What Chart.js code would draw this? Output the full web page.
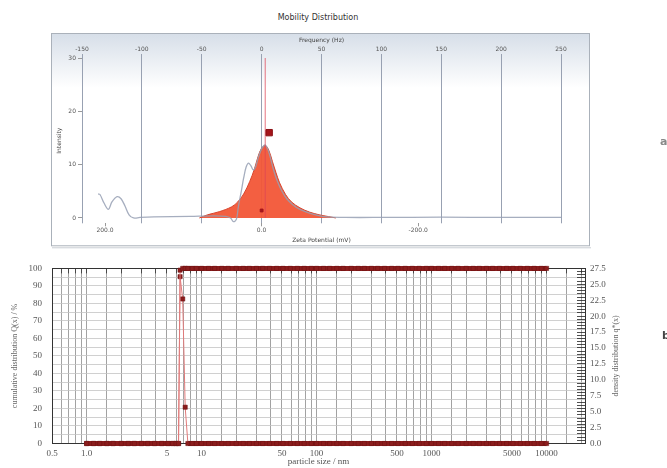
<!DOCTYPE html>
<html>
<head>
<meta charset="utf-8">
<script src="https://cdn.jsdelivr.net/npm/chart.js@4.4.1/dist/chart.umd.min.js"></script>
<style>
  body { margin: 0; width: 667px; height: 468px; overflow: hidden; background: #fff; position: relative; font-family: "DejaVu Sans", sans-serif; }
  #title { position: absolute; left: 0; top: 13px; width: 636px; text-align: center; font-size: 8px; color: #333; }
  #c1 { position: absolute; left: 0; top: 0; }
  #c2 { position: absolute; left: 0; top: 250px; }
  .side { position: absolute; font: bold 11px "DejaVu Sans", sans-serif; color: #444; }
</style>
</head>
<body>
<div id="title">Mobility Distribution</div>
<canvas id="c1" width="667" height="250"></canvas>
<canvas id="c2" width="667" height="218"></canvas>
<div class="side" style="left:660px;top:135px;color:#888">a</div>
<div class="side" style="left:662px;top:329px">b</div>
<script>
// ---- mobility distribution (top) ----
var freqTicks = [-150, -100, -50, 0, 50, 100, 150, 200, 250];
var zetaTicks = [200, 0, -200];
var intensityTicks = [0, 10, 20, 30];

// fitted peak (filled)
var fitFreq      = [-52, -45, -35, -25, -20, -15, -10, -6, -3, 0, 3, 6, 9, 12, 15, 20, 25, 32, 40, 48, 56, 62];
var fitIntensity = [0, 0.6, 1.2, 2.1, 3.0, 4.5, 6.8, 9.2, 11.5, 13.1, 13.6, 12.7, 10.6, 8.5, 6.6, 4.4, 3.0, 1.9, 1.1, 0.6, 0.25, 0];

// raw intensity trace (grey)
var rawFreq      = [-136.6, -135, -131.6, -128, -125, -120.7, -117.4, -114, -110.7, -107, -101.5, -90, -60, -40, -30, -26, -23.5, -21, -19.5, -17, -15, -13, -11, -9, -7, -5, -3, 0, 2, 3, 5, 7, 10, 13, 17, 21, 26, 32, 40, 48, 55, 70, 100, 150, 200, 250];
var rawIntensity = [4.5, 4.4, 2.8, 1.6, 3.0, 4.0, 3.6, 2.2, 0.6, 0, 0.1, 0.2, 0.3, 0.4, 0.3, 0, -0.7, -0.2, 2.0, 5.0, 7.5, 9.5, 10.3, 9.8, 9.0, 9.6, 11.2, 13.0, 13.6, 13.7, 13.0, 11.6, 9.0, 7.0, 5.0, 3.6, 2.5, 1.6, 0.9, 0.45, 0.2, 0.1, 0.1, 0.15, 0.1, 0.1];

var peakMarker = { freq: 6.3, intensity: 16 };
var zeroMarker = { freq: 0, intensity: 1.4 };
var peakLineFreq = 3;

function pairs(xs, ys) {
    return xs.map(function(x, i) { return { x: x, y: ys[i] }; });
}

var panelBg = {
    id: 'panelBg',
    beforeDraw: function(chart) {
        var ctx = chart.ctx, a = chart.chartArea;
        var x0 = a.left - 31, y0 = a.top - 25, x1 = a.right + 29, y1 = a.bottom + 23;
        var g = ctx.createLinearGradient(0, y0, 0, y0 + 55);
        g.addColorStop(0, '#d6dee8');
        g.addColorStop(1, '#ffffff');
        ctx.save();
        ctx.fillStyle = g;
        ctx.fillRect(x0, y0, x1 - x0, y1 - y0);
        ctx.strokeStyle = '#aab1ba';
        ctx.lineWidth = 1;
        ctx.strokeRect(x0 + 0.5, y0 + 0.5, x1 - x0 - 1, y1 - y0 - 1);
        ctx.strokeStyle = '#c9ced4';
        ctx.beginPath();
        ctx.moveTo(x0 + 1, y1 + 1.5);
        ctx.lineTo(x1 + 1, y1 + 1.5);
        ctx.stroke();
        ctx.restore();
    }
};

var small = { size: 6, family: '"DejaVu Sans", sans-serif' };

new Chart(document.getElementById('c1').getContext('2d'), {
    type: 'line',
    data: {
        datasets: [{
            data: pairs(fitFreq, fitIntensity),
            borderColor: '#d9442c',
            backgroundColor: 'rgba(242,86,55,0.95)',
            borderWidth: 1,
            fill: 'origin',
            pointRadius: 0,
            tension: 0.35,
            order: 4
        }, {
            data: pairs(rawFreq, rawIntensity),
            borderColor: 'rgba(150,160,180,0.85)',
            borderWidth: 1.3,
            fill: false,
            pointRadius: 0,
            tension: 0.35,
            order: 3
        }, {
            data: [{ x: peakLineFreq, y: 0 }, { x: peakLineFreq, y: 30 }],
            borderColor: 'rgba(222,70,85,0.75)',
            borderWidth: 1,
            pointRadius: 0,
            order: 2
        }, {
            data: [{ x: peakMarker.freq, y: peakMarker.intensity }],
            showLine: false,
            pointStyle: 'rect',
            pointRadius: 4.5,
            backgroundColor: '#a5151b',
            borderColor: '#8a0f14',
            order: 1
        }, {
            data: [{ x: zeroMarker.freq, y: zeroMarker.intensity }],
            showLine: false,
            pointStyle: 'rect',
            pointRadius: 2,
            backgroundColor: '#a5151b',
            borderColor: '#a5151b',
            order: 1
        }]
    },
    options: {
        responsive: false,
        animation: false,
        layout: { padding: { left: 52, right: 106, top: 33, bottom: 4.7 } },
        plugins: { legend: { display: false }, tooltip: { enabled: false } },
        scales: {
            x: {
                type: 'linear',
                position: 'top',
                min: -150,
                max: 250,
                afterBuildTicks: function(s) { s.ticks = freqTicks.map(function(v) { return { value: v }; }); },
                afterFit: function(s) { s.height = 25; },
                ticks: { font: small, color: '#555', padding: 1, maxRotation: 0 },
                grid: { color: '#98a1b2', tickLength: 4 },
                border: { display: false },
                title: { display: true, text: 'Frequency (Hz)', font: small, color: '#444', padding: { top: 3.4, bottom: 0 } }
            },
            x2: {
                type: 'linear',
                position: 'bottom',
                min: -382.4,
                max: 229.4,
                reverse: true,
                afterBuildTicks: function(s) { s.ticks = zetaTicks.map(function(v) { return { value: v }; }); },
                afterFit: function(s) { s.height = 22; },
                ticks: { font: small, color: '#555', padding: 1, maxRotation: 0, callback: function(v) { return v.toFixed(1); } },
                grid: { drawOnChartArea: false, tickLength: 3, color: '#999' },
                border: { display: false },
                title: { display: true, text: 'Zeta Potential (mV)', font: small, color: '#444', padding: { top: 0, bottom: 1.7 } }
            },
            y: {
                min: -1,
                max: 30,
                afterBuildTicks: function(s) { s.ticks = intensityTicks.map(function(v) { return { value: v }; }); },
                afterFit: function(s) { s.width = 30; },
                ticks: { font: small, color: '#555', padding: 2 },
                grid: { drawOnChartArea: false, tickLength: 4, color: '#999' },
                border: { display: false },
                title: { display: true, text: 'Intensity', font: small, color: '#444', padding: { top: 3.4, bottom: 0 } }
            }
        }
    },
    plugins: [panelBg]
});

// ---- particle size distribution (bottom) ----
var sizeTickLabels = [0.5, 1, 5, 10, 50, 100, 500, 1000, 5000, 10000];
var sizes = [1.0, 1.15, 1.3, 1.5, 1.7, 2.0, 2.3, 2.6, 3.0, 3.4, 3.9, 4.5, 5.1, 5.6, 6.0, 6.3, 6.5, 6.85, 7.2, 7.6, 8.3, 9.0,
             10, 11.5, 13, 15, 17, 20, 23, 26, 30, 34, 39, 45, 51, 59, 68, 78, 90,
             100, 115, 130, 150, 170, 200, 230, 260, 300, 340, 390, 450, 510, 590, 680, 780, 900,
             1000, 1150, 1300, 1500, 1700, 2000, 2300, 2600, 3000, 3400, 3900, 4500, 5100, 5900, 6800, 7800, 9000, 10000];
var cumulative = [0, 0, 0, 0, 0, 0, 0, 0, 0, 0, 0, 0, 0, 0, 0, 0, 99, 100, 100, 100, 100, 100,
                  100, 100, 100, 100, 100, 100, 100, 100, 100, 100, 100, 100, 100, 100, 100, 100, 100,
                  100, 100, 100, 100, 100, 100, 100, 100, 100, 100, 100, 100, 100, 100, 100, 100, 100,
                  100, 100, 100, 100, 100, 100, 100, 100, 100, 100, 100, 100, 100, 100, 100, 100, 100, 100];
var density = [0, 0, 0, 0, 0, 0, 0, 0, 0, 0, 0, 0, 0, 0, 0, 0, 26.2, 22.7, 5.7, 0, 0, 0,
               0, 0, 0, 0, 0, 0, 0, 0, 0, 0, 0, 0, 0, 0, 0, 0, 0,
               0, 0, 0, 0, 0, 0, 0, 0, 0, 0, 0, 0, 0, 0, 0, 0, 0,
               0, 0, 0, 0, 0, 0, 0, 0, 0, 0, 0, 0, 0, 0, 0, 0, 0, 0];

var serif = { size: 9, family: '"Liberation Serif", serif' };
var dark = '#8b1d1d';

function flat(c) { return c.p0.parsed.y === c.p1.parsed.y; }
var seg = {
    borderWidth: function(c) { return flat(c) ? 5 : 1; },
    borderColor: function(c) { return flat(c) ? dark : '#e07a7a'; }
};

var rightTitle = {
    id: 'rightTitle',
    afterDraw: function(chart) {
        var ctx = chart.ctx, a = chart.chartArea, s = chart.scales.y2;
        ctx.save();
        ctx.translate(s.left + 31, (a.top + a.bottom) / 2);
        ctx.rotate(-Math.PI / 2);
        ctx.font = '8px "Liberation Serif", serif';
        ctx.fillStyle = '#666';
        ctx.textAlign = 'center';
        ctx.textBaseline = 'middle';
        ctx.fillText('density distribution q*(x)', 0, 0);
        ctx.restore();
    }
};

function hasLabel(v) {
    return sizeTickLabels.some(function(t) { return Math.abs(t - v) / t < 1e-6; });
}

new Chart(document.getElementById('c2').getContext('2d'), {
    type: 'line',
    data: {
        datasets: [{
            data: pairs(sizes, cumulative),
            yAxisID: 'y',
            pointStyle: 'rect',
            pointRadius: 3,
            pointBackgroundColor: dark,
            pointBorderColor: '#6a1010',
            pointBorderWidth: 0.5,
            borderColor: dark,
            segment: seg,
            clip: false
        }, {
            data: pairs(sizes, density),
            yAxisID: 'y2',
            pointStyle: 'rect',
            pointRadius: 3,
            pointBackgroundColor: dark,
            pointBorderColor: '#6a1010',
            pointBorderWidth: 0.5,
            borderColor: dark,
            segment: seg,
            clip: false
        }]
    },
    options: {
        responsive: false,
        animation: false,
        layout: { padding: { left: 0, right: 37, top: 0, bottom: 0 } },
        plugins: { legend: { display: false }, tooltip: { enabled: false } },
        scales: {
            x: {
                type: 'logarithmic',
                position: 'bottom',
                min: 0.5,
                max: 21600,
                afterFit: function(s) { s.height = 24.5; },
                ticks: {
                    autoSkip: false, maxRotation: 0, font: serif, color: '#555', padding: 5,
                    callback: function(v) { return hasLabel(v) ? (v === 1 ? '1.0' : String(v)) : ''; }
                },
                grid: { color: '#8a8a8a', lineWidth: 0.8, drawTicks: false },
                border: { color: '#333', width: 1 },
                title: { display: true, text: 'particle size / nm', font: serif, color: '#555', padding: { top: 0, bottom: 0.6 } }
            },
            xt: {
                type: 'logarithmic',
                position: 'top',
                min: 0.5,
                max: 21600,
                afterFit: function(s) { s.height = 14.5; },
                ticks: { display: false, autoSkip: false },
                grid: { drawOnChartArea: false, tickLength: -5, color: '#333', lineWidth: 0.8 },
                border: { color: '#333', width: 1 }
            },
            y: {
                position: 'left',
                min: 0,
                max: 100,
                afterFit: function(s) { s.width = 52; },
                ticks: {
                    stepSize: 5, maxTicksLimit: 100, autoSkip: false, font: serif, color: '#555', padding: 10,
                    callback: function(v) { return v % 10 === 0 ? String(v) : ''; }
                },
                grid: { color: '#c4c4c4', lineWidth: 0.8, drawTicks: false },
                border: { color: '#333', width: 1 },
                title: { display: true, text: 'cumulative distribution Q(x) / %', font: { size: 8, family: '"Liberation Serif", serif' }, color: '#666', padding: { top: 10.2, bottom: 0 } }
            },
            y2: {
                position: 'right',
                min: 0,
                max: 27.5,
                afterFit: function(s) { s.width = 45; },
                ticks: {
                    stepSize: 0.5, maxTicksLimit: 100, autoSkip: false, font: serif, color: '#555', padding: 13,
                    callback: function(v) { return Math.abs(v / 2.5 - Math.round(v / 2.5)) < 1e-6 ? v.toFixed(1) : ''; }
                },
                grid: { drawOnChartArea: false, tickLength: -8, color: '#222', lineWidth: 0.8 },
                border: { color: '#333', width: 1 }
            }
        }
    },
    plugins: [rightTitle]
});
</script>
</body>
</html>
